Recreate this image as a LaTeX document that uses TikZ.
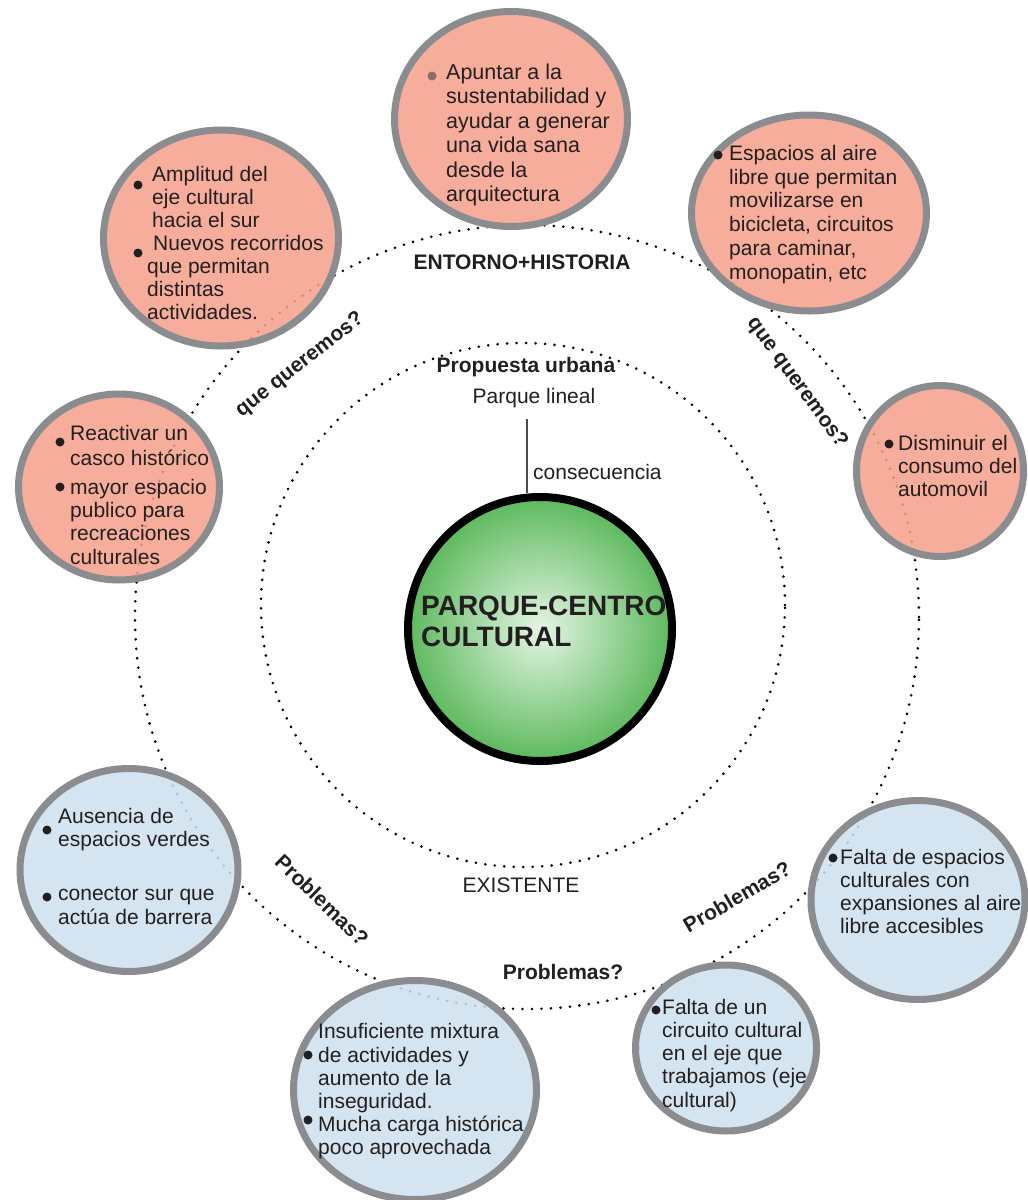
\documentclass[tikz,border=0pt]{standalone}
\usepackage{fontspec}
\setmainfont{Liberation Sans}
\usetikzlibrary{shapes.geometric}
\definecolor{salmon}{HTML}{F5A08C}
\definecolor{bluef}{HTML}{CDE0EE}
\definecolor{rim}{HTML}{8A8C8F}
\definecolor{ink}{HTML}{231F20}
\definecolor{greenO}{HTML}{5DB95D}
\definecolor{greenI}{HTML}{E4F5E4}
\definecolor{bulletbrown}{HTML}{8B6F66}
\begin{document}
\begin{tikzpicture}[x=1pt,y=-1pt,
  bubble/.style={ellipse, draw=rim, line width=7pt, inner sep=0pt, fill opacity=0.86, draw opacity=1},
  warm/.style={bubble, fill=salmon},
  cold/.style={bubble, fill=bluef},
  dotcircle/.style={draw=black, line width=2.9pt, line cap=round, dash pattern=on 0pt off 9.5pt},
  btxt/.style={anchor=north west, inner sep=0pt, align=left, text=ink, font=\fontsize{21}{23.4}\selectfont},
  lbl/.style={inner sep=0pt, text=ink, font=\fontsize{21}{24}\selectfont\bfseries},
  lblr/.style={inner sep=0pt, text=ink, font=\fontsize{21}{24}\selectfont},
  dotb/.style={fill=ink}
]
\fill[white] (0,0) rectangle (1028,1200);
\useasboundingbox (0,0) rectangle (1028,1200);

% dotted circles
\draw[dotcircle] (527,617) circle (392pt);
\draw[dotcircle] (523,605) circle (262pt);

% central circle
\node[circle, minimum size=264pt, line width=8pt, draw=black, inner color=greenI, outer color=greenO] (g) at (540,629) {};
\node[anchor=north west, inner sep=0pt, align=left, text=ink, font=\fontsize{28}{31}\selectfont\bfseries] (gt) at (421,594) {\strut PARQUE-CENTRO\\CULTURAL};

% center labels
\node[lbl] (prop) at (526,367) {Propuesta urbana};
\node[lblr] (plin) at (534,398) {Parque lineal};
\coordinate (lt) at (527,419);
\draw[draw=ink!80, line width=1.5pt] (lt) -- (lt |- g.north);
\node[lblr, anchor=west] (cons) at (533,472) {consecuencia};
\node[lblr] (exis) at (521,885) {EXISTENTE};
\node[lbl] (ent) at (522,262) {ENTORNO+HISTORIA};

% bubbles
\node[warm, minimum width=233pt, minimum height=215pt] (b1) at (511,119) {};
\node[warm, minimum width=235pt, minimum height=216pt] (b2) at (221,238) {};
\node[warm, minimum width=201pt, minimum height=186pt] (b3) at (119,487) {};
\node[warm, minimum width=235pt, minimum height=196pt] (b4) at (809,213) {};
\node[warm, minimum width=167pt, minimum height=171pt] (b5) at (940,471) {};
\node[cold, minimum width=218pt, minimum height=203pt] (b6) at (129,870) {};
\node[cold, minimum width=243pt, minimum height=219pt] (b7) at (415,1090) {};
\node[cold, minimum width=181pt, minimum height=166pt] (b8) at (726,1048) {};
\node[cold, minimum width=214pt, minimum height=199pt] (b9) at (918,900) {};

% bubble texts
\node[btxt, font=\fontsize{21.5}{24.5}\selectfont] (t1) at (446,62) {\strut Apuntar a la\\sustentabilidad y\\ayudar a generar\\una vida sana\\desde la\\arquitectura};
\fill[bulletbrown] (432,76) circle (4.5pt);

\node[btxt, font=\fontsize{21}{23}\selectfont] (t2) at (147,165.5) {\strut\kern5pt Amplitud del\\\kern5pt eje cultural\\\kern5pt hacia el sur\\\kern6pt Nuevos recorridos\\que permitan\\distintas\\actividades.};
\fill[dotb] (138,185) circle (4.5pt);
\fill[dotb] (138,253) circle (4.5pt);

\node[btxt, font=\fontsize{21}{25}\selectfont] (t3a) at (70,423) {\strut Reactivar un\\casco histórico};
\node[btxt] (t3b) at (70,477.5) {\strut mayor espacio\\publico para\\recreaciones\\culturales};
\fill[dotb] (60,442) circle (4.5pt);
\fill[dotb] (60,487) circle (4.5pt);

\node[btxt, font=\fontsize{21}{23.8}\selectfont] (t4) at (729,143.5) {\strut Espacios al aire\\libre que permitan\\movilizarse en\\bicicleta, circuitos\\para caminar,\\monopatin, etc};
\fill[dotb] (718,155) circle (4.5pt);

\node[btxt] (t5) at (898,433.5) {\strut Disminuir el\\consumo del\\automovil};
\fill[dotb] (889,444) circle (4.5pt);

\node[btxt, font=\fontsize{21}{23}\selectfont] (t6a) at (58,807.5) {\strut Ausencia de\\espacios verdes};
\node[btxt, font=\fontsize{21}{24}\selectfont] (t6b) at (58,883.5) {\strut conector sur que\\actúa de barrera};
\fill[dotb] (47,830) circle (4.5pt);
\fill[dotb] (47,897) circle (4.5pt);

\node[btxt, font=\fontsize{21}{23.2}\selectfont] (t7) at (318,1022.5) {\strut Insuficiente mixtura\\de actividades y\\aumento de la\\inseguridad.\\Mucha carga histórica\\poco aprovechada};
\fill[dotb] (308,1055) circle (4.5pt);
\fill[dotb] (308,1120) circle (4.5pt);

\node[btxt, font=\fontsize{21}{23.3}\selectfont] (t8) at (662,997.5) {\strut Falta de un\\circuito cultural\\en el eje que\\trabajamos (eje\\cultural)};
\fill[dotb] (656,1010) circle (4.5pt);

\node[btxt, font=\fontsize{21}{23.3}\selectfont] (t9) at (840,847.5) {\strut Falta de espacios\\culturales con\\expansiones al aire\\libre accesibles};
\fill[dotb] (833,858) circle (4.5pt);

% rotated labels
\node[lbl, rotate=38] (q1) at (300,365) {que queremos?};
\node[lbl, rotate=-54] (q2) at (797,383) {que queremos?};
\node[lbl, rotate=-44] (p1) at (322,900) {Problemas?};
\node[lbl, rotate=30] (p2) at (737,897) {Problemas?};
\node[lbl] (p3) at (563,972) {Problemas?};
\end{tikzpicture}
\end{document}
